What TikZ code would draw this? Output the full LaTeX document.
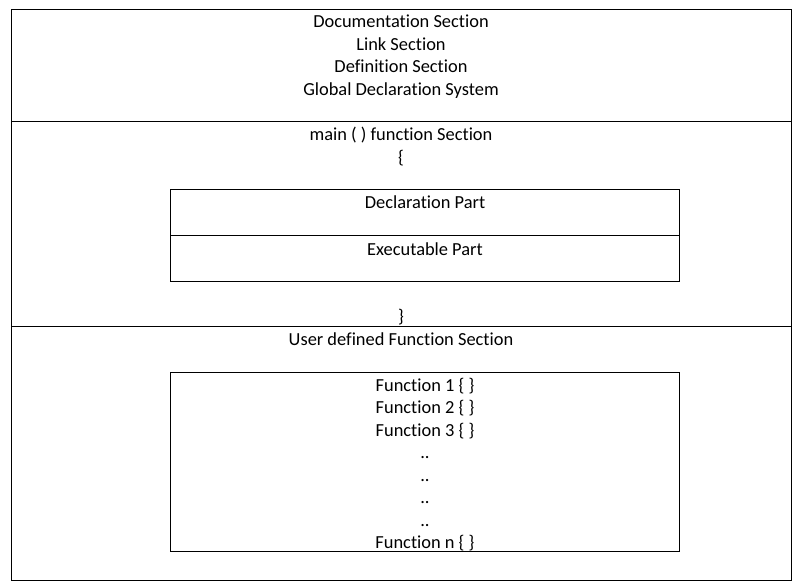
\documentclass[tikz,border=0pt]{standalone}
\usepackage{fontspec}
\setmainfont{Carlito}[Ligatures = NoCommon]
\usetikzlibrary{positioning}

\begin{document}
\begin{tikzpicture}[
    x = 0.75pt, y = -0.75pt,
    every node/.style = {
      font = \fontsize{13.8}{16}\selectfont,
      inner sep = 0pt,
    },
    lbl/.style = {anchor = base},
    frame/.style = {draw = black, line width = 0.75pt},
  ]
  \useasboundingbox (0,0) rectangle (801,585);

  % outer frame, cut in three sections
  \draw[frame] (11,10) rectangle (791,580);
  \draw[frame] (11,122) -- (791,122);
  \draw[frame] (11,326) -- (791,326);

  % boxes inside main and the user functions
  \draw[frame] (170,190) rectangle (679,281);
  \draw[frame] (170,236) -- (679,236);
  \draw[frame] (170,372) rectangle (679,551);

  % top section
  \node[lbl] (doc)  at (401,28) {Documentation Section};
  \node[lbl] (link) at (401,51) {Link Section};
  \node[lbl] (def)  at (401,73) {Definition Section};
  \node[lbl] (glob) at (401,96) {Global Declaration System};

  % main section
  \node[lbl] (main)  at (401,141) {main ( ) function Section};
  \node[lbl] (open)  at (401,164) {\{};
  \node[lbl] (decl)  at (425,209) {Declaration Part};
  \node[lbl] (exec)  at (425,255) {Executable Part};
  \node[lbl] (close) at (401,322) {\}};

  % user defined functions
  \node[lbl] (user) at (401,345) {User defined Function Section};
  \foreach \txt [count = \i] in {Function 1 \{ \}, Function 2 \{ \},
      Function 3 \{ \}, .., .., .., .., Function n \{ \}}
    \node[lbl] (fn\i) at (425,{391 + 22.5*(\i-1)}) {\txt};
\end{tikzpicture}
\end{document}
